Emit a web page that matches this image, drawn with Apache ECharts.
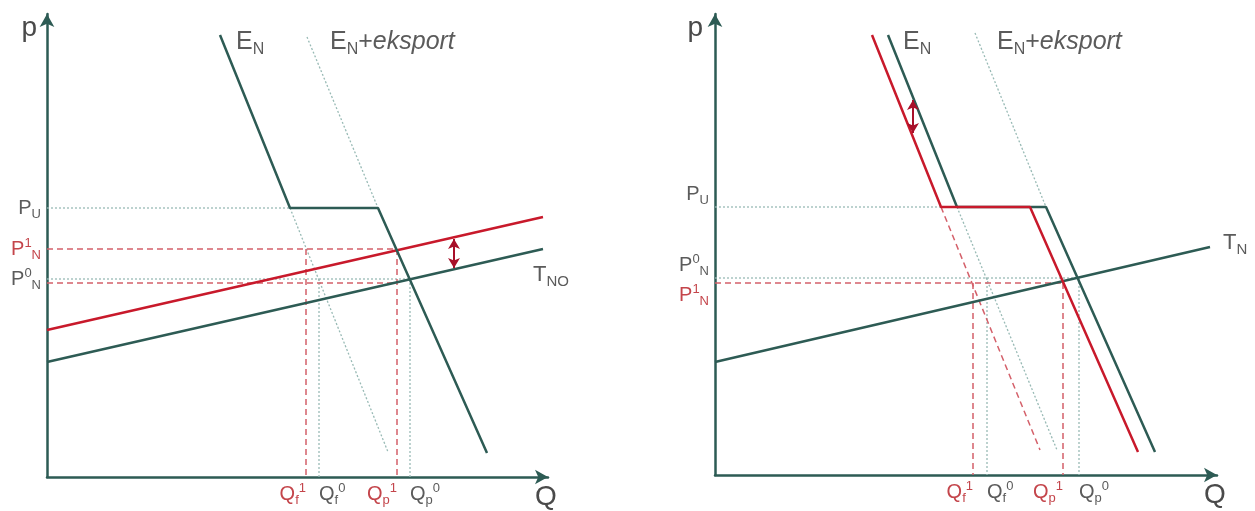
<!DOCTYPE html>
<html>
<head>
<meta charset="utf-8">
<script src="https://cdn.jsdelivr.net/npm/echarts@6/dist/echarts.min.js"></script>
<style>
  html, body { margin: 0; padding: 0; background: #ffffff; }
  #chart { width: 1255px; height: 511px; }
</style>
</head>
<body>
<div id="chart"></div>
<script>
// ---------- Left diagram: tax line shifted up (T_NO -> new T) ----------
const leftDemand       = [[173, 442], [243, 269], [331, 269], [440, 24]];  // E_N incl. P_U cap
const leftDemandExport = [[260, 440], [331, 269]];                         // E_N + eksport above P_U
const leftDemandTail   = [[243, 269], [341, 25]];                          // E_N continued below P_U
const leftTax0         = [[0, 115], [496, 228]];                           // T_NO
const leftTax1         = [[0, 147], [496, 260]];                           // shifted tax line
const leftShift        = [407, 238, 209];                                  // x, from, to of the shift arrow
const leftPriceGray    = [269, 198];
const leftPriceGrayLbl = ['P_{U}', 'P^{0}_{N}'];
const leftPriceRed     = [228];
const leftPriceRedLbl  = ['P^{1}_{N}'];
const leftProducerLow  = 194;                                              // T_NO level at Q_p^1
const leftQtyGray      = [272, 363];
const leftQtyGrayLbl   = ['Q_{f}^{0}', 'Q_{p}^{0}'];
const leftQtyRed       = [259, 350];
const leftQtyRedLbl    = ['Q_{f}^{1}', 'Q_{p}^{1}'];

// ---------- Right diagram: demand line shifted down ----------
const rightDemand0       = [[173, 440], [242, 268], [331, 268], [440, 23]]; // E_N
const rightDemand1       = [[157, 440], [226, 268], [315, 268], [423, 23]]; // shifted E_N
const rightDemandExport  = [[260, 442], [331, 268]];                        // E_N + eksport above P_U
const rightDemandTail0   = [[242, 268], [342, 25]];
const rightDemandTail1   = [[226, 268], [325, 25]];
const rightTax           = [[0, 113], [495, 228]];                          // T_N
const rightShift         = [198, 375, 342];
const rightPriceGray     = [268, 197];
const rightPriceGrayLbl  = ['P_{U}', 'P^{0}_{N}'];
const rightPriceRed      = [192];
const rightPriceRedLbl   = ['P^{1}_{N}'];
const rightQtyGray       = [272, 364];
const rightQtyGrayLbl    = ['Q_{f}^{0}', 'Q_{p}^{0}'];
const rightQtyRed        = [258, 348];
const rightQtyRedLbl     = ['Q_{f}^{1}', 'Q_{p}^{1}'];

// ---------- styling ----------
const FONT = "'Liberation Sans', Arial, sans-serif";
const GREEN = '#2d5b54';
const RED = '#c8192b';
const DOT = '#98bab5';
const DASH = '#d4606a';
const ARROW = '#a8102a';
const GRAY = '#5b5b5b';
const RED_TXT = '#c4454b';
const AXIS_TXT = '#4a4a4a';

function richStyles(size, subSize, lh) {
  const r = {};
  [['g', GRAY], ['r', RED_TXT]].forEach(([k, c]) => {
    r[k] = { fontSize: size, color: c, fontFamily: FONT, lineHeight: lh };
    r[k + 'It'] = { fontSize: size, color: c, fontFamily: FONT, lineHeight: lh, fontStyle: 'italic' };
    r[k + 'Up'] = { fontSize: subSize, color: c, fontFamily: FONT, lineHeight: subSize, verticalAlign: 'top' };
    r[k + 'Dn'] = { fontSize: subSize, color: c, fontFamily: FONT, lineHeight: subSize, verticalAlign: 'bottom' };
  });
  return r;
}
const RICH_TICK = richStyles(20, 13, 25);
const RICH_E = richStyles(25, 16, 31);
const RICH_T = richStyles(22, 15, 28);

// 'P^{1}_{N}' -> rich text with superscript / subscript, '*x*' -> italic
function toRich(text, tone) {
  const re = /\^\{([^}]*)\}|_\{([^}]*)\}|\*([^*]*)\*|([^\^_*]+)/g;
  let out = '', m;
  while ((m = re.exec(text))) {
    if (m[1] !== undefined) out += '{' + tone + 'Up|' + m[1] + '}';
    else if (m[2] !== undefined) out += '{' + tone + 'Dn|' + m[2] + '}';
    else if (m[3] !== undefined) out += '{' + tone + 'It|' + m[3] + '}';
    else out += '{' + tone + '|' + m[4] + '}';
  }
  return out;
}

// ---------- axes ----------
function qAxis(grid, max, values, labels, tone, align, main) {
  return {
    type: 'value', gridIndex: grid, min: 0, max: max, position: 'bottom',
    name: main ? 'Q' : '', nameLocation: 'end', nameGap: -2,
    nameTextStyle: { fontSize: 28, color: AXIS_TXT, fontFamily: FONT, align: 'center',
                     verticalAlign: 'top', lineHeight: 40 },
    axisLine: { show: main, onZero: false, symbol: ['none', 'arrow'], symbolSize: [11, 13],
                lineStyle: { color: GREEN, width: 2.5 } },
    axisTick: { show: false }, splitLine: { show: false },
    axisLabel: { show: true, customValues: values, margin: 5, align: align, verticalAlign: 'top',
                 formatter: v => toRich(labels[values.indexOf(v)], tone), rich: RICH_TICK }
  };
}
function pAxis(grid, max, values, labels, tone, vAlign, main, nameRightPad) {
  return {
    type: 'value', gridIndex: grid, min: 0, max: max, position: 'left',
    name: main ? 'p' : '', nameLocation: 'end', nameGap: -14,
    nameTextStyle: { fontSize: 28, color: AXIS_TXT, fontFamily: FONT, align: 'right',
                     verticalAlign: 'middle', padding: [0, nameRightPad, 0, 0] },
    axisLine: { show: main, onZero: false, symbol: ['none', 'arrow'], symbolSize: [11, 13],
                lineStyle: { color: GREEN, width: 2.5 } },
    axisTick: { show: false }, splitLine: { show: false },
    axisLabel: { show: true, customValues: values, margin: 6, verticalAlign: vAlign,
                 formatter: v => toRich(labels[values.indexOf(v)], tone), rich: RICH_TICK }
  };
}

// ---------- series ----------
const series = [];
const solid = c => ({ color: c, width: 2.5, type: 'solid' });
const dotted = () => ({ color: DOT, width: 1.3, type: [2, 2] });
const dashed = () => ({ color: DASH, width: 1.5, type: [6, 4] });

function addLine(ax, pts, style, labels, markLine) {
  const s = {
    type: 'line', xAxisIndex: ax, yAxisIndex: ax, clip: false, silent: true,
    symbol: 'circle', symbolSize: 0, showSymbol: true,
    itemStyle: { color: style.color },
    lineStyle: style,
    data: pts.map((p, i) => (labels && labels[i]) ? { value: p, label: labels[i] } : p)
  };
  if (markLine) s.markLine = markLine;
  series.push(s);
}
function hLine(ax, y, x1, style) { addLine(ax, [[0, y], [x1, y]], style); }
function vLine(ax, x, y1, style) { addLine(ax, [[x, y1], [x, 0]], style); }
function tag(text, rich, position, distance, offset) {
  return { show: true, position, distance, offset, rich, formatter: () => toRich(text, 'g') };
}
function shiftArrow(s) {
  return {
    silent: true, symbol: ['arrow', 'arrow'], symbolSize: [9, 10],
    lineStyle: { color: ARROW, width: 2, type: 'solid' }, label: { show: false },
    data: [[{ coord: [s[0], s[1]] }, { coord: [s[0], s[2]] }]]
  };
}

// left diagram (axis index 0)
hLine(0, leftPriceGray[0], leftDemand[1][0], dotted());
hLine(0, leftPriceGray[1], leftQtyGray[1], dotted());
vLine(0, leftQtyGray[0], leftPriceGray[1], dotted());
vLine(0, leftQtyGray[1], leftPriceGray[1], dotted());
addLine(0, leftDemandExport, dotted(), [tag('E_{N}+*eksport*', RICH_E, 'right', 23, [0, 5])]);
addLine(0, leftDemandTail, dotted());
hLine(0, leftPriceRed[0], leftQtyRed[1], dashed());
hLine(0, leftProducerLow, leftQtyRed[1], dashed());
vLine(0, leftQtyRed[0], leftPriceRed[0], dashed());
vLine(0, leftQtyRed[1], leftPriceRed[0], dashed());
addLine(0, leftTax0, solid(GREEN), [null, tag('T_{NO}', RICH_T, 'bottom', 12, [8, 0])]);
addLine(0, leftTax1, solid(RED), null, shiftArrow(leftShift));
addLine(0, leftDemand, solid(GREEN), [tag('E_{N}', RICH_E, 'right', 16, [0, 7])]);

// right diagram (axis index 2)
hLine(2, rightPriceGray[0], rightDemand1[1][0], dotted());
hLine(2, rightPriceGray[1], rightQtyGray[1], dotted());
vLine(2, rightQtyGray[0], rightPriceGray[1], dotted());
vLine(2, rightQtyGray[1], rightPriceGray[1], dotted());
addLine(2, rightDemandExport, dotted(), [tag('E_{N}+*eksport*', RICH_E, 'right', 22, [0, 9])]);
addLine(2, rightDemandTail0, dotted());
addLine(2, rightDemandTail1, dashed());
hLine(2, rightPriceRed[0], rightQtyRed[1], dashed());
vLine(2, rightQtyRed[0], rightPriceRed[0], dashed());
vLine(2, rightQtyRed[1], rightPriceRed[0], dashed());
addLine(2, rightTax, solid(GREEN), [null, tag('T_{N}', RICH_T, 'right', 13, [0, -4])]);
addLine(2, rightDemand0, solid(GREEN), [tag('E_{N}', RICH_E, 'right', 15, [0, 7])]);
addLine(2, rightDemand1, solid(RED), null, shiftArrow(rightShift));

const option = {
  animation: false,
  backgroundColor: '#ffffff',
  grid: [
    { left: 47, top: 14, width: 501, height: 463, outerBoundsMode: 'none' },
    { left: 715, top: 14, width: 502, height: 461, outerBoundsMode: 'none' }
  ],
  xAxis: [
    qAxis(0, 501, leftQtyRed, leftQtyRedLbl, 'r', 'right', true),
    qAxis(0, 501, leftQtyGray, leftQtyGrayLbl, 'g', 'left', false),
    qAxis(1, 502, rightQtyRed, rightQtyRedLbl, 'r', 'right', true),
    qAxis(1, 502, rightQtyGray, rightQtyGrayLbl, 'g', 'left', false)
  ],
  yAxis: [
    pAxis(0, 463, leftPriceGray, leftPriceGrayLbl, 'g', 'middle', true, 10),
    pAxis(0, 463, leftPriceRed, leftPriceRedLbl, 'r', 'middle', false, 0),
    pAxis(1, 461, rightPriceGray, rightPriceGrayLbl, 'g', 'bottom', true, 12),
    pAxis(1, 461, rightPriceRed, rightPriceRedLbl, 'r', 'top', false, 0)
  ],
  series: series
};

const chart = echarts.init(document.getElementById('chart'), null, { renderer: 'canvas' });
chart.setOption(option);
</script>
</body>
</html>
